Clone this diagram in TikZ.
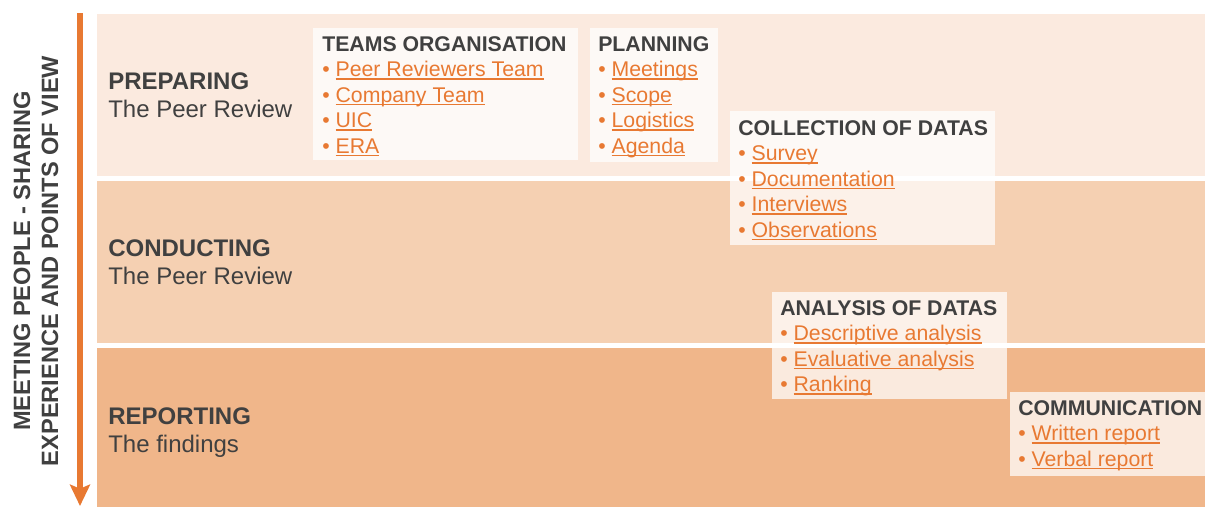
\documentclass[tikz,border=0pt]{standalone}
\usepackage{fontspec}
\setmainfont{Liberation Sans}
\usetikzlibrary{arrows.meta}
\definecolor{bandA}{RGB}{251,234,223}
\definecolor{bandB}{RGB}{245,208,178}
\definecolor{bandC}{RGB}{240,182,138}
\definecolor{accent}{RGB}{232,121,50}
\definecolor{ink}{RGB}{64,64,64}
\newcommand\myul[1]{\setbox0\hbox{#1}\rlap{\rule[-2.3pt]{\wd0}{1.05pt}}\box0}
\newcommand\itm[1]{\textcolor{accent}{\textbullet\ \myul{#1}}}
\begin{document}
\begin{tikzpicture}[x=0.75pt,y=-0.75pt,
  list/.style={font=\fontsize{15.95pt}{19.1pt}\selectfont, text=ink, align=left, inner sep=0pt, anchor=base west},
  phase/.style={font=\fontsize{18pt}{21pt}\selectfont, text=ink, align=left, inner sep=0pt, anchor=base west},
  sidetext/.style={font=\fontsize{17.7pt}{21pt}\selectfont\bfseries, text=ink, align=center, inner sep=0pt, rotate=90},
  panel/.style={fill=white, fill opacity=0.72},
  flow/.style={draw=accent, line width=3.8pt, -{Stealth[length=16pt, width=15pt, inset=3pt]}}
]
\useasboundingbox (0,0) rectangle (1205,507);
% bands
\fill[bandA] (97,14) rectangle (1205,176);
\fill[bandB] (97,181) rectangle (1205,343);
\fill[bandC] (97,348) rectangle (1205,507);
% arrow
\coordinate (arrTop) at (80,13);
\coordinate (arrEnd) at (80,506);
\draw[flow] (arrTop) -- (arrEnd);
% side text
\node[sidetext] (side) at (36,261) {MEETING PEOPLE - SHARING\\EXPERIENCE AND POINTS OF VIEW};
% phase labels (anchor = baseline of last line)
\node[phase] (prep) at (108,117) {\textbf{PREPARING}\\The Peer Review};
\node[phase] (cond) at (108,284) {\textbf{CONDUCTING}\\The Peer Review};
\node[phase] (rep) at (108,452) {\textbf{REPORTING}\\The findings};
% panels
\fill[panel] (313,28) rectangle (578,160);
\fill[panel] (590,28) rectangle (718,162);
\fill[panel] (730,111) rectangle (995,245);
\fill[panel] (772,292) rectangle (1007,399);
\fill[panel] (1010,392) rectangle (1205,476);
% lists (anchor = baseline of last line)
\node[list] (teams) at (322,153) {\textbf{TEAMS ORGANISATION}\\\itm{Peer Reviewers Team}\\\itm{Company Team}\\\itm{UIC}\\\itm{ERA}};
\node[list] (plan) at (598,153) {\textbf{PLANNING}\\\itm{Meetings}\\\itm{Scope}\\\itm{Logistics}\\\itm{Agenda}};
\node[list] (coll) at (738,237) {\textbf{COLLECTION OF DATAS}\\\itm{Survey}\\\itm{Documentation}\\\itm{Interviews}\\\itm{Observations}};
\node[list] (anal) at (780,391.5) {\textbf{ANALYSIS OF DATAS}\\\itm{Descriptive analysis}\\\itm{Evaluative analysis}\\\itm{Ranking}};
\node[list] (comm) at (1018,466) {\textbf{COMMUNICATION}\\\itm{Written report}\\\itm{Verbal report}};
\end{tikzpicture}
\end{document}
